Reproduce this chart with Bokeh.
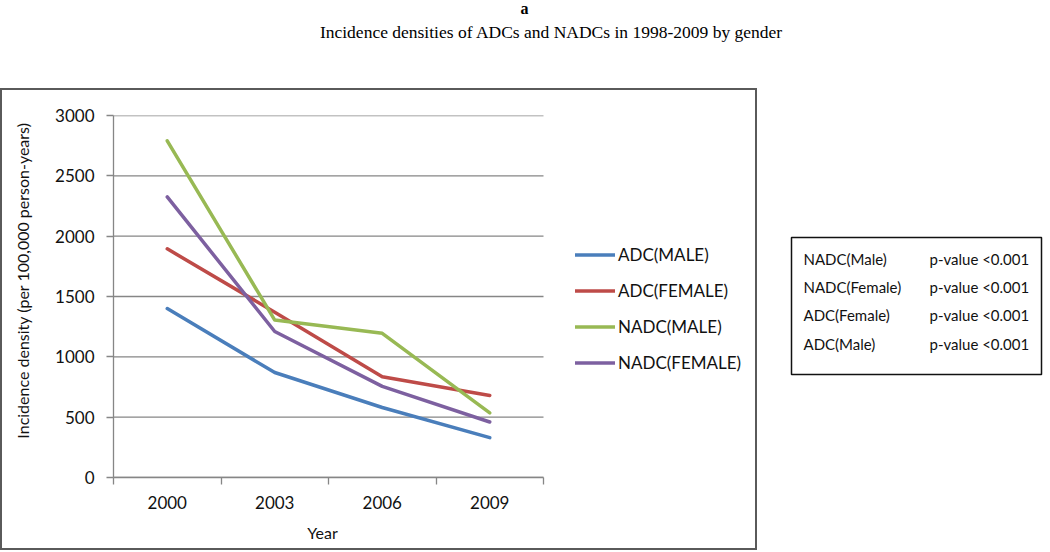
import math
from bokeh.plotting import figure
from bokeh.models import Label, Legend, LegendItem, FixedTicker, Range1d, Spacer
from bokeh.layouts import column, row
from bokeh.embed import file_html
from bokeh.resources import INLINE

# ---- data ----
years = ["2000", "2003", "2006", "2009"]
adc_male = [1400, 870, 580, 330]
adc_female = [1895, 1370, 835, 680]
nadc_male = [2790, 1305, 1195, 535]
nadc_female = [2325, 1210, 755, 460]
series_names = ["ADC(MALE)", "ADC(FEMALE)", "NADC(MALE)", "NADC(FEMALE)"]
y_ticks = [0, 500, 1000, 1500, 2000, 2500, 3000]
pv_groups = ["NADC(Male)", "NADC(Female)", "ADC(Female)", "ADC(Male)"]
pv_values = ["p-value <0.001", "p-value <0.001", "p-value <0.001", "p-value <0.001"]
title_letter = "a"
subtitle = "Incidence densities of ADCs and NADCs in 1998-2009 by gender"
x_title = "Year"
y_title = "Incidence density (per 100,000 person-years)"

colors = ["#4A7EBB", "#BE4B48", "#98B954", "#7D60A0"]
GRID = "#868686"
BOX = "#5a5a5a"
FONT = "Lato"
TXT = "#111111"

n = len(years)
xpos = [i + 0.5 for i in range(n)]
bounds = list(range(n + 1))


def bare(w, h, **kw):
    f = figure(width=w, height=h, output_backend="svg", toolbar_location=None,
               x_axis_type=None, y_axis_type=None, x_range=Range1d(0, 1), y_range=Range1d(0, 1), **kw)
    f.xgrid.visible = False
    f.ygrid.visible = False
    f.outline_line_color = None
    f.background_fill_color = "white"
    f.border_fill_color = "white"
    return f


# ---- header ----
hdr = bare(1048, 88, min_border=0)
hdr.add_layout(Label(x=524, y=80, x_units="screen", y_units="screen", text=title_letter,
                     text_font="Liberation Serif", text_font_size="16px", text_font_style="bold",
                     text_color="#000000", text_baseline="middle", text_align="center"))
hdr.add_layout(Label(x=551, y=57, x_units="screen", y_units="screen", text=subtitle,
                     text_font="Liberation Serif", text_font_size="17.5px",
                     text_color="#000000", text_baseline="middle", text_align="center"))

# ---- main chart ----
x_extent = n * 641 / 430  # frame extends to the right to hold the legend
p = figure(width=705, height=432, output_backend="svg", toolbar_location=None,
           x_range=Range1d(0, x_extent), y_range=Range1d(0, 3000),
           min_border_left=63, min_border_right=1, min_border_top=25, min_border_bottom=45)
p.outline_line_color = None
p.background_fill_color = "white"
p.border_fill_color = "white"
p.xgrid.visible = False
p.ygrid.visible = False

# horizontal gridlines over the category area only
p.segment(x0=[0] * len(y_ticks), x1=[n] * len(y_ticks), y0=y_ticks, y1=y_ticks,
          line_color=GRID, line_width=1.3)

p.xaxis.bounds = (0, n)
p.xaxis.ticker = FixedTicker(ticks=xpos, minor_ticks=bounds)
p.xaxis.major_label_overrides = {x: y for x, y in zip(xpos, years)}
p.xaxis.major_tick_out = 7
p.xaxis.major_tick_in = 0
p.xaxis.major_tick_line_color = None
p.xaxis.minor_tick_out = 7
p.xaxis.minor_tick_in = 0
p.xaxis.minor_tick_line_color = GRID
p.xaxis.minor_tick_line_width = 1.3
p.xaxis.major_label_standoff = 11

p.yaxis.ticker = FixedTicker(ticks=y_ticks)
p.yaxis.major_tick_out = 7
p.yaxis.major_tick_in = 0
p.yaxis.minor_tick_line_color = None
p.yaxis.major_tick_line_color = GRID
p.yaxis.major_tick_line_width = 1.3
p.yaxis.major_label_standoff = 12

for ax in (p.xaxis, p.yaxis):
    ax.axis_line_color = GRID
    ax.axis_line_width = 1.3
    ax.major_label_text_font = FONT
    ax.major_label_text_font_size = "17px"
    ax.major_label_text_color = TXT

items = []
for name, ys, c in zip(series_names, [adc_male, adc_female, nadc_male, nadc_female], colors):
    r = p.line(xpos, ys, line_color=c, line_width=3.5, line_join="round", line_cap="round")
    items.append(LegendItem(label=name, renderers=[r]))

legend = Legend(items=items, location=(462, 104), glyph_width=40, glyph_height=21,
                label_height=21, label_standoff=3, spacing=15, padding=0, margin=0,
                border_line_color=None, background_fill_alpha=0,
                label_text_font=FONT, label_text_font_size="17px", label_text_color=TXT)
p.add_layout(legend)

# axis titles placed in their own strips so they sit where the reference has them
ylab = bare(48, 458, min_border=0)
ylab.add_layout(Label(x=20, y=268, x_units="screen", y_units="screen", text=y_title, angle=math.pi / 2,
                      text_font=FONT, text_font_size="16px", text_color=TXT,
                      text_baseline="middle", text_align="center"))
# this strip's frame is aligned with the chart frame (left edge at the y axis)
xlab = bare(705, 26, min_border=0)
xlab.add_layout(Label(x=209, y=16, x_units="screen", y_units="screen", text=x_title,
                      text_font=FONT, text_font_size="16px", text_color=TXT,
                      text_baseline="middle", text_align="center"))

inner = row(ylab, column(p, xlab))

# chart border made of thin strips
edge = {"background-color": BOX}
chart_box = column(
    Spacer(width=757, height=2, styles=edge),
    row(Spacer(width=2, height=458, styles=edge), inner, Spacer(width=2, height=458, styles=edge)),
    Spacer(width=757, height=2, styles=edge),
)

# ---- p-value box: frame is the box itself ----
pv = bare(291, 462, min_border_left=34, min_border_right=7, min_border_top=149, min_border_bottom=176)
pv.outline_line_color = TXT
pv.outline_line_width = 1.5
row_y = [116, 88, 60, 31]
for g, v, yy in zip(pv_groups, pv_values, row_y):
    pv.add_layout(Label(x=12, y=yy, x_units="screen", y_units="screen", text=g,
                        text_font=FONT, text_font_size="15px", text_color=TXT,
                        text_baseline="middle", text_align="left"))
    pv.add_layout(Label(x=138, y=yy, x_units="screen", y_units="screen", text=v,
                        text_font=FONT, text_font_size="15px", text_color=TXT,
                        text_baseline="middle", text_align="left"))

page = column(hdr, row(chart_box, pv))
open("out.html", "w").write(file_html(page, INLINE))
